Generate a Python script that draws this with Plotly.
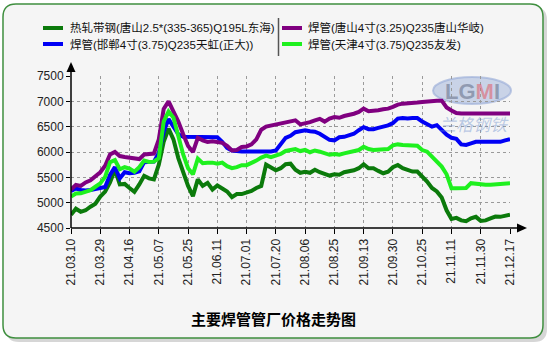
import plotly.graph_objects as go

# ---------------- data ----------------
tick_labels = ["21.03.10", "21.03.29", "21.04.16", "21.05.07", "21.05.25", "21.06.11",
               "21.07.01", "21.07.20", "21.08.06", "21.08.25", "21.09.13", "21.09.30",
               "21.10.25", "21.11.11", "21.11.30", "21.12.17"]
points_per_tick = 6

series_names = ["热轧带钢(唐山2.5*(335-365)Q195L东海)",
                "焊管(邯郸4寸(3.75)Q235天虹(正大))",
                "焊管(唐山4寸(3.25)Q235唐山华岐)",
                "焊管(天津4寸(3.75)Q235友发)"]

hot_rolled_tangshan = [4760, 4880, 4820, 4850, 4920, 4980, 5120, 5220, 5400, 5650,
                       5360, 5370, 5290, 5215, 5360, 5530, 5480, 5460, 5750, 6200,
                       6460, 6250, 5880, 5590, 5330, 5130, 5460, 5330, 5390, 5260,
                       5340, 5280, 5220, 5110, 5170, 5170, 5200, 5230, 5290, 5330,
                       5750, 5700, 5640, 5680, 5760, 5770, 5650, 5590, 5610, 5590,
                       5650, 5600, 5570, 5535, 5560, 5550, 5600, 5613, 5640, 5680,
                       5758, 5680, 5680, 5627, 5581, 5613, 5700, 5744, 5679, 5646,
                       5613, 5613, 5515, 5417, 5290, 5221, 5100, 4850, 4680, 4700,
                       4650, 4633, 4690, 4720, 4640, 4650, 4690, 4725, 4720, 4735,
                       4764]

pipe_handan = [5230, 5280, 5250, 5240, 5250, 5280, 5290, 5310, 5550, 5700,
               5480, 5600, 5580, 5590, 5620, 5800, 5800, 5810, 5980, 6400,
               6650, 6500, 6350, 6300, 6300, 6300, 6300, 6300, 6300, 6300,
               6290, 6200, 6080, 6030, 6010, 6010, 6010, 6010, 6000, 6010,
               6010, 6010, 6030, 6150, 6280, 6320, 6390, 6410, 6430, 6410,
               6400, 6360, 6290, 6240, 6230, 6290, 6300, 6320, 6360, 6430,
               6490, 6450, 6450, 6475, 6490, 6525, 6570, 6660, 6670, 6660,
               6670, 6670, 6600, 6560, 6500, 6530, 6430, 6340, 6280, 6260,
               6150, 6140, 6170, 6200, 6200, 6200, 6200, 6210, 6200, 6230,
               6255]

pipe_tangshan = [5260, 5350, 5330, 5400, 5440, 5510, 5600, 5730, 5950, 6000,
                 5920, 5900, 5880, 5860, 5860, 5950, 5960, 5970, 6250, 6850,
                 7000, 6820, 6600, 6350, 6120, 6000, 6280, 6230, 6200, 6210,
                 6200, 6180, 6120, 6030, 6040, 6100, 6110, 6150, 6250, 6440,
                 6500, 6520, 6540, 6580, 6600, 6608, 6625, 6545, 6560, 6590,
                 6625, 6655, 6600, 6660, 6690, 6675, 6710, 6725, 6755, 6790,
                 6855, 6805, 6810, 6823, 6843, 6856, 6890, 6935, 6954, 6955,
                 6974, 6975, 6987, 7000, 7000, 7013, 7013, 6880, 6820, 6770,
                 6758, 6758, 6758, 6758, 6758, 6758, 6758, 6758, 6758, 6758,
                 6758]

pipe_tianjin = [5120, 5180, 5185, 5216, 5248, 5314, 5380, 5510, 5800, 5840,
                5660, 5700, 5673, 5610, 5700, 5830, 5804, 5810, 5880, 6600,
                6800, 6680, 6300, 5950, 5680, 5560, 5870, 5780, 5790, 5790,
                5770, 5790, 5720, 5680, 5700, 5740, 5740, 5780, 5830, 5890,
                5930, 5900, 5930, 5960, 6020, 6040, 6058, 6019, 6040, 5995,
                6030, 6006, 5975, 5945, 5960, 5945, 5973, 5990, 6006, 6039,
                6104, 6058, 6040, 6040, 6040, 6058, 6130, 6150, 6137, 6137,
                6137, 6124, 6039, 6006, 5908, 5810, 5712, 5560, 5287, 5287,
                5290, 5290, 5385, 5370, 5352, 5352, 5352, 5358, 5365, 5365,
                5385]

y_ticks = [4500, 5000, 5500, 6000, 6500, 7000, 7500]
title_text = "主要焊管管厂价格走势图"

# ---------------- styles ----------------
colors = ["#0b7a0b", "#0000f5", "#800080", "#1ef01e"]
series_values = [hot_rolled_tangshan, pipe_handan, pipe_tangshan, pipe_tianjin]

W, H = 550, 350
L, R, T, B = 71, 40, 76, 122
PW, PH = W - L - R, H - T - B


def px(x):
    return (x - L) / PW


def py(y):
    return (H - B - y) / PH


x_idx = list(range(len(hot_rolled_tangshan)))
tick_vals = [i * points_per_tick for i in range(len(tick_labels))]

fig = go.Figure()
for name, vals, col in zip(series_names, series_values, colors):
    fig.add_trace(go.Scatter(x=x_idx, y=vals, mode="lines", name=name,
                             line=dict(color=col, width=4), showlegend=False,
                             hoverinfo="skip"))


def rounded_rect(x0, y0, x1, y1, r):
    pts = [
        ("M", [(x0 + r, y0)]),
        ("L", [(x1 - r, y0)]),
        ("Q", [(x1, y0), (x1, y0 + r)]),
        ("L", [(x1, y1 - r)]),
        ("Q", [(x1, y1), (x1 - r, y1)]),
        ("L", [(x0 + r, y1)]),
        ("Q", [(x0, y1), (x0, y1 - r)]),
        ("L", [(x0, y0 + r)]),
        ("Q", [(x0, y0), (x0 + r, y0)]),
    ]
    s = ""
    for cmd, ps in pts:
        s += cmd + " " + " ".join(f"{px(a):.5f},{py(b):.5f}" for a, b in ps) + " "
    return s + "Z"


def poly(points):
    return "M " + " L ".join(f"{px(a):.5f},{py(b):.5f}" for a, b in points) + " Z"


shapes = []
# frame shadow + frame
shapes.append(dict(type="path", xref="paper", yref="paper", layer="below",
                   path=rounded_rect(6, 7, 547, 342, 13),
                   fillcolor="rgba(0,0,0,0.16)", line=dict(width=0)))
shapes.append(dict(type="path", xref="paper", yref="paper", layer="below",
                   path=rounded_rect(3, 4, 543, 338, 13),
                   fillcolor="#f5f5f5", line=dict(color="#3f8f3f", width=1.5)))

# watermark ellipse
shapes.append(dict(type="circle", xref="paper", yref="paper", layer="below",
                   x0=px(433), x1=px(511), y0=py(104), y1=py(77),
                   fillcolor="rgba(120,150,205,0.35)",
                   line=dict(color="rgba(150,170,215,0.6)", width=2)))

# axis extensions and arrows
shapes.append(dict(type="line", xref="paper", yref="paper", x0=px(71), x1=px(71),
                   y0=py(228), y1=py(71), line=dict(color="black", width=1.5)))
shapes.append(dict(type="path", xref="paper", yref="paper",
                   path=poly([(66.5, 72), (75.5, 72), (71, 62)]),
                   fillcolor="black", line=dict(width=0)))
shapes.append(dict(type="line", xref="paper", yref="paper", x0=px(71), x1=px(517),
                   y0=py(228), y1=py(228), line=dict(color="black", width=1.5)))
shapes.append(dict(type="path", xref="paper", yref="paper",
                   path=poly([(517, 223.5), (517, 232.5), (527, 228)]),
                   fillcolor="black", line=dict(width=0)))

# legend swatches + separator
leg_pos = [(43, 68, 28), (43, 68, 44), (282, 306, 28), (282, 306, 44)]
for (sx, tx, ly), col in zip(leg_pos, colors):
    shapes.append(dict(type="line", xref="paper", yref="paper",
                       x0=px(sx), x1=px(sx + 20), y0=py(ly), y1=py(ly),
                       line=dict(color=col, width=4)))
shapes.append(dict(type="line", xref="paper", yref="paper",
                   x0=px(278.5), x1=px(278.5), y0=py(18), y1=py(56),
                   line=dict(color="#555555", width=1.5)))

annotations = []
leg_font = dict(family="Liberation Sans Narrow, Liberation Sans, Noto Sans CJK SC",
                size=11.5, color="#111111")
for (sx, tx, ly), name in zip(leg_pos, series_names):
    annotations.append(dict(xref="paper", yref="paper", x=px(tx), y=py(ly),
                            xanchor="left", yanchor="middle", showarrow=False,
                            text=name, font=leg_font))

annotations.append(dict(xref="paper", yref="paper", x=px(273), y=py(318),
                        xanchor="center", yanchor="middle", showarrow=False,
                        text="<b>" + title_text + "</b>",
                        font=dict(family="Noto Sans CJK SC", size=15, color="black")))

# watermark text
annotations.append(dict(xref="paper", yref="paper", x=px(472), y=py(91),
                        xanchor="center", yanchor="middle", showarrow=False,
                        text="<b>LG<span style='color:rgba(225,95,105,0.75)'>M</span>I</b>",
                        font=dict(family="Liberation Sans", size=22,
                                  color="rgba(125,135,160,0.75)")))
annotations.append(dict(xref="paper", yref="paper", x=px(474), y=py(123),
                        xanchor="center", yanchor="middle", showarrow=False,
                        text="兰格钢铁",
                        font=dict(family="Noto Sans CJK SC", size=17, style="italic",
                                  color="rgba(110,145,205,0.45)")))

tick_font = dict(family="Liberation Sans, Arial", size=12, color="#222222")

fig.update_layout(
    width=W, height=H, autosize=False,
    margin=dict(l=L, r=R, t=T, b=B, pad=0),
    paper_bgcolor="white", plot_bgcolor="rgba(0,0,0,0)",
    shapes=shapes, annotations=annotations, showlegend=False,
    xaxis=dict(range=[0, len(x_idx) - 1], tickmode="array", tickvals=tick_vals,
               ticktext=tick_labels, tickangle=-90, ticks="outside", ticklen=5,
               tickcolor="black", tickwidth=1, showline=False,
               showgrid=True, gridcolor="#9a9a9a", griddash="dot", gridwidth=1,
               zeroline=False, tickfont=tick_font, fixedrange=True),
    yaxis=dict(range=[y_ticks[0], y_ticks[-1]], tickmode="array", tickvals=y_ticks,
               ticks="outside", ticklen=4, tickcolor="black", tickwidth=1,
               showline=False, showgrid=True, gridcolor="#9a9a9a", griddash="dot",
               gridwidth=1, zeroline=False, tickfont=tick_font, fixedrange=True),
)

fig.write_html("out.html", config={"displayModeBar": False})
